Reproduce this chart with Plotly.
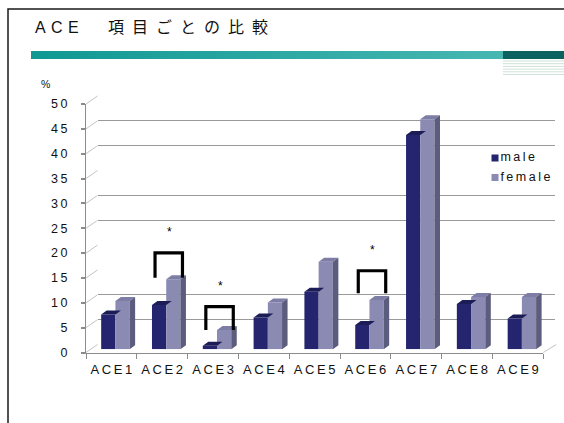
import plotly.graph_objects as go

# ---- data -------------------------------------------------------------
categories = ["ACE1", "ACE2", "ACE3", "ACE4", "ACE5", "ACE6", "ACE7", "ACE8", "ACE9"]
male = [7.0, 8.9, 0.7, 6.4, 11.6, 4.9, 43.1, 9.1, 6.2]
female = [9.7, 14.1, 3.9, 9.4, 17.6, 9.9, 46.3, 10.5, 10.5]
series_names = ["male", "female"]

y_ticks = list(range(0, 55, 5))
grid_values = [5, 10, 25, 30, 40, 45]

# significance brackets (category, lower end of legs, bracket top)
sig_items = ["ACE2", "ACE3", "ACE6"]
sig_low = [14.4, 3.9, 11.3]
sig_high = [19.4, 8.6, 15.8]

title_text = "ACE 項目ごとの比較"

# ---- page geometry (pixels) -------------------------------------------
W, H = 564, 423
FX0, FX1 = 86.0, 543.3        # front edge of the floor
FY0, FY1 = 352.5, 104.0       # value 0 / value 50 on the front plane
Y_MAX = 50
WALL_DX, WALL_DY = 11.5, 8.0  # depth of the chart box
BAR_DX, BAR_DY = 4.5, 3.2     # depth at which the bar fronts sit
FACE_DX, FACE_DY = 5.5, 4.0   # bar depth (top / side faces)

C_MALE = "#25256f"
C_MALE_TOP = "#1c1c56"
C_FEM = "#8a8ab2"
C_FEM_TOP = "#7d7da6"
C_FEM_SIDE = "#5c5c7c"
AXIS_GRAY = "#8c8c8c"
FONT = "Liberation Sans, Arial, Noto Sans CJK JP, sans-serif"

n = len(categories)
xr = [-0.5, n - 0.5]
px_per_cat = (FX1 - FX0) / n
px_per_val = (FY0 - FY1) / Y_MAX


def xdom(a, b):
    return [a / W, b / W]


def ydom(bottom, top):
    return [1 - bottom / H, 1 - top / H]


def spaced(s, sep="\u2009"):
    return sep.join(s)


def py(v):
    return FY0 - v * px_per_val


fig = go.Figure()


def anchor_trace(xa, ya):
    # empty trace so that an axis pair without data is still drawn
    fig.add_trace(go.Scatter(x=[None], y=[None], mode="markers",
                             hoverinfo="skip", showlegend=False,
                             xaxis=xa, yaxis=ya))


# back wall subplot (gridlines only)
anchor_trace("x", "y")

# ---- bars (bar plane: x2/y2) ------------------------------------------
xs = list(range(n))
male_off, male_w = -0.29, 0.28
fem_off, fem_w = -0.01, 0.28
ddx = FACE_DX / px_per_cat
ddy = FACE_DY / px_per_val


def top_faces(vals, off, w):
    px, pyy = [], []
    for i, v in enumerate(vals):
        a, b = i + off, i + off + w
        px += [a, b, b + ddx, a + ddx, a, None]
        pyy += [v, v, v + ddy, v + ddy, v, None]
    return px, pyy


def side_faces(vals, off, w):
    px, pyy = [], []
    for i, v in enumerate(vals):
        b = i + off + w
        px += [b, b + ddx, b + ddx, b, b, None]
        pyy += [0, ddy, v + ddy, v, 0, None]
    return px, pyy


fig.add_trace(go.Bar(x=xs, y=male, offset=male_off, width=male_w,
                     marker=dict(color=C_MALE, line=dict(width=0)),
                     name=series_names[0], showlegend=False,
                     xaxis="x2", yaxis="y2"))
tx, ty = top_faces(male, male_off, male_w)
fig.add_trace(go.Scatter(x=tx, y=ty, mode="lines", fill="toself",
                         fillcolor=C_MALE_TOP, line=dict(width=0),
                         hoverinfo="skip", showlegend=False,
                         xaxis="x2", yaxis="y2"))
fig.add_trace(go.Bar(x=xs, y=female, offset=fem_off, width=fem_w,
                     marker=dict(color=C_FEM, line=dict(width=0)),
                     name=series_names[1], showlegend=False,
                     xaxis="x2", yaxis="y2"))
tx, ty = top_faces(female, fem_off, fem_w)
fig.add_trace(go.Scatter(x=tx, y=ty, mode="lines", fill="toself",
                         fillcolor=C_FEM_TOP, line=dict(width=0),
                         hoverinfo="skip", showlegend=False,
                         xaxis="x2", yaxis="y2"))
sx, sy = side_faces(female, fem_off, fem_w)
fig.add_trace(go.Scatter(x=sx, y=sy, mode="lines", fill="toself",
                         fillcolor=C_FEM_SIDE, line=dict(width=0),
                         hoverinfo="skip", showlegend=False,
                         xaxis="x2", yaxis="y2"))

# ---- significance brackets and stars ----------------------------------
L, R = -0.23, 0.31
bx, by = [], []
for name, lo, hi in zip(sig_items, sig_low, sig_high):
    i = categories.index(name)
    bx += [i + L, i + L, i + R, i + R, None]
    by += [lo, hi, hi, lo, None]
fig.add_trace(go.Scatter(x=bx, y=by, mode="lines",
                         line=dict(color="black", width=3.2),
                         hoverinfo="skip", showlegend=False,
                         xaxis="x2", yaxis="y2"))
for name, hi in zip(sig_items, sig_high):
    i = categories.index(name)
    fig.add_annotation(x=i + 0.05, y=hi + 4.2, xref="x2", yref="y2",
                       text="*", showarrow=False,
                       font=dict(family=FONT, size=12, color="black"))

# front plane axes (labels, axis lines, tick marks)
anchor_trace("x3", "y3")
anchor_trace("x5", "y3")

# ---- pixel overlay: slide decoration, box edges, legend ---------------
deco = dict(xaxis="x4", yaxis="y4", hoverinfo="skip", showlegend=False)

# slide frame
fig.add_trace(go.Scatter(x=[8, 8, W], y=[H, 9, 9], mode="lines",
                         line=dict(color="#1a1a1a", width=1.5), **deco))
# teal title rule with gradient
fig.add_trace(go.Scatter(x=[31, 503, 503, 31, 31], y=[51, 51, 59, 59, 51],
                         mode="lines", line=dict(width=0), fill="toself",
                         fillgradient=dict(type="horizontal",
                                           colorscale=[[0, "#0f9893"], [1, "#48b7b2"]]),
                         **deco))
fig.add_trace(go.Scatter(x=[503, W, W, 503, 503], y=[51, 51, 59, 59, 51],
                         mode="lines", line=dict(width=0), fill="toself",
                         fillcolor="#0c6261", **deco))
stripe_x, stripe_y = [], []
for k in range(6):
    yy = 61 + k * 2.7
    stripe_x += [503, W, None]
    stripe_y += [yy, yy, None]
fig.add_trace(go.Scatter(x=stripe_x, y=stripe_y, mode="lines",
                         line=dict(color="#cfe0d8", width=1), **deco))

# left wall and floor edges of the chart box
ex, ey = [], []
for v in y_ticks:
    ex += [FX0, FX0 + WALL_DX, None]
    ey += [py(v), py(v) - WALL_DY, None]
ex += [FX1, FX1 + WALL_DX + 1.5, None]
ey += [FY0, FY0 - WALL_DY, None]
fig.add_trace(go.Scatter(x=ex, y=ey, mode="lines",
                         line=dict(color="#c4c4c4", width=1), **deco))

# legend
for name, col, yy in zip(series_names, [C_MALE, C_FEM], [158, 177.5]):
    fig.add_trace(go.Scatter(x=[495], y=[yy], mode="markers+text",
                             marker=dict(symbol="square", size=7, color=col),
                             text=[spaced(name)], textposition="middle right",
                             textfont=dict(family=FONT, size=12.5, color="#111"),
                             **deco))

# ---- title and unit ---------------------------------------------------
ace, rest = title_text.split(" ")
title_disp = "\u2004".join(ace) + "\u2003\u2002\u2004" + "\u2002".join(rest)
fig.add_annotation(x=33 / W, y=1 - 28 / H, xref="paper", yref="paper",
                   xanchor="left", yanchor="middle", showarrow=False,
                   text=title_disp,
                   font=dict(family=FONT, size=16, color="#111"))
fig.add_annotation(x=45 / W, y=1 - 84 / H, xref="paper", yref="paper",
                   xanchor="center", yanchor="middle", showarrow=False,
                   text="%", font=dict(family=FONT, size=10.5, color="#111"))

# ---- axes -------------------------------------------------------------
hidden = dict(showgrid=False, zeroline=False, showline=False,
              showticklabels=False, ticks="", automargin=False)
fig.update_layout(
    width=W, height=H, autosize=False,
    margin=dict(l=0, r=0, t=0, b=0, pad=0, autoexpand=False),
    paper_bgcolor="white", plot_bgcolor="rgba(0,0,0,0)",
    barmode="overlay", showlegend=False,
    # back wall (gridlines)
    xaxis=dict(domain=xdom(FX0 + WALL_DX, FX1 + WALL_DX), range=xr,
               anchor="y", **hidden),
    yaxis=dict(domain=ydom(FY0 - WALL_DY, FY1 - WALL_DY), range=[0, Y_MAX],
               anchor="x", showgrid=True, gridcolor="#9a9a9a", gridwidth=1,
               tickvals=grid_values, zeroline=False, showline=False,
               showticklabels=False, ticks="", automargin=False),
    # bar plane
    xaxis2=dict(domain=xdom(FX0 + BAR_DX, FX1 + BAR_DX), range=xr,
                anchor="y2", **hidden),
    yaxis2=dict(domain=ydom(FY0 - BAR_DY, FY1 - BAR_DY), range=[0, Y_MAX],
                anchor="x2", **hidden),
    # front plane: axis lines, tick marks, labels
    xaxis3=dict(domain=xdom(FX0, FX1), range=xr, anchor="y3",
                tickvals=xs, ticktext=[spaced(c) for c in categories],
                ticks="", showline=True, linecolor=AXIS_GRAY, linewidth=1,
                showgrid=False, zeroline=False, ticklabelstandoff=5,
                automargin=False,
                tickfont=dict(family=FONT, size=13, color="#111")),
    yaxis3=dict(domain=ydom(FY0, FY1), range=[0, Y_MAX], anchor="x3",
                tickvals=y_ticks, ticktext=[spaced(str(v)) for v in y_ticks],
                ticks="outside", ticklen=4, tickwidth=2, tickcolor=AXIS_GRAY,
                showline=True, linecolor=AXIS_GRAY, linewidth=1,
                showgrid=False, zeroline=False, ticklabelstandoff=11,
                automargin=False,
                tickfont=dict(family=FONT, size=12.5, color="#111")),
    xaxis5=dict(overlaying="x3", anchor="y3", range=xr,
                tickvals=[i - 0.5 for i in range(n + 1)],
                ticks="outside", ticklen=5, tickwidth=1, tickcolor=AXIS_GRAY,
                showticklabels=False, showgrid=False, zeroline=False,
                showline=False, automargin=False),
    # pixel overlay for decoration
    xaxis4=dict(domain=[0, 1], range=[0, W], anchor="y4", **hidden),
    yaxis4=dict(domain=[0, 1], range=[H, 0], anchor="x4", **hidden),
)

fig.write_html("out.html")
